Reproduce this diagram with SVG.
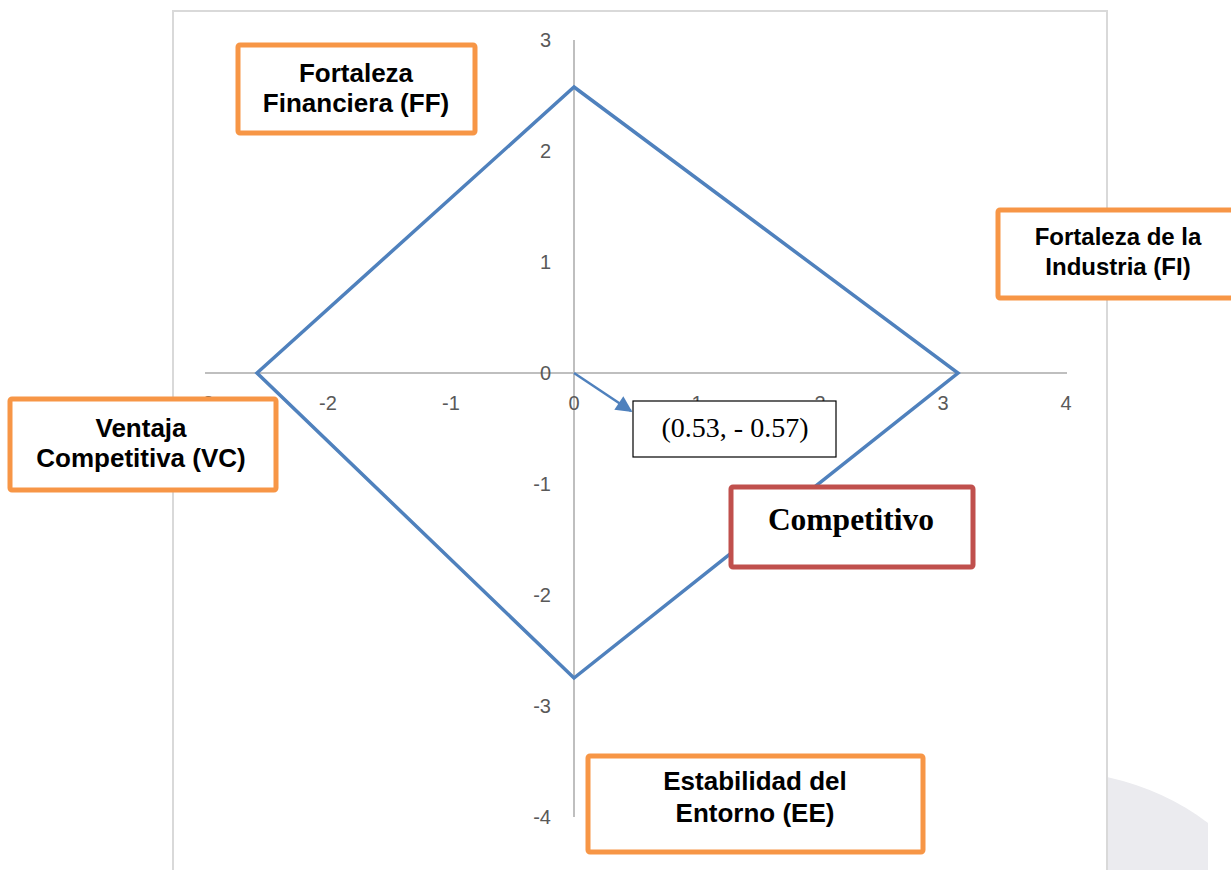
<svg xmlns="http://www.w3.org/2000/svg" width="1231" height="870" viewBox="0 0 1231 870">
<style>
.axis{stroke:#BFBFBF;stroke-width:2;fill:none}
.tick{font-family:"Liberation Sans",Arial,sans-serif;font-size:20px;fill:#595959}
.ob{fill:#fff;stroke:#F79646;stroke-width:5}
.ot{font-family:"Liberation Sans",Arial,sans-serif;font-weight:bold;fill:#000;text-anchor:middle}
</style>
<defs>
<marker id="ah" viewBox="0 0 10 10" refX="9" refY="5" markerWidth="7.5" markerHeight="6.5" markerUnits="strokeWidth" orient="auto">
<path d="M0,0 L10,5 L0,10 Z" fill="#4F81BD"/>
</marker>
</defs>
<rect width="1231" height="870" fill="#fff"/>
<path d="M1107,777 Q1165,790 1208,823 L1208,870 L1107,870 Z" fill="#EBEBEF"/>
<path d="M173,880 L173,11 L1107,11 L1107,880" fill="none" stroke="#D9D9D9" stroke-width="2"/>
<g id="axes">
<line class="axis" x1="205" y1="373" x2="1067" y2="373"/>
<line class="axis" x1="574" y1="40" x2="574" y2="817"/>
<g class="tick" text-anchor="end">
<text x="551" y="47">3</text>
<text x="551" y="158">2</text>
<text x="551" y="269">1</text>
<text x="551" y="380">0</text>
<text x="551" y="491">-1</text>
<text x="551" y="602">-2</text>
<text x="551" y="713">-3</text>
<text x="551" y="824">-4</text>
</g>
<g class="tick" text-anchor="middle">
<text x="205" y="410">-3</text>
<text x="328" y="410">-2</text>
<text x="451" y="410">-1</text>
<text x="574" y="410">0</text>
<text x="697" y="410">1</text>
<text x="820" y="410">2</text>
<text x="943" y="410">3</text>
<text x="1066" y="410">4</text>
</g>
</g>
<g id="connectors">
<polygon points="574,87 958,373 574,678 257,373" fill="none" stroke="#4F81BD" stroke-width="3.5" stroke-linejoin="miter"/>
<line x1="574" y1="373" x2="631" y2="411" stroke="#4F81BD" stroke-width="2.5" marker-end="url(#ah)"/>
</g>
<g id="point-label">
<rect x="633" y="401" width="203" height="56" fill="#fff" stroke="#000" stroke-width="1.2"/>
<text x="735" y="437" font-family="'Liberation Serif','Times New Roman',serif" font-size="28" text-anchor="middle">(0.53, - 0.57)</text>
</g>
<g id="ff">
<rect class="ob" x="238" y="45" width="237" height="88" rx="2"/>
<text class="ot" font-size="26" x="356" y="82">Fortaleza</text>
<text class="ot" font-size="26" x="356" y="112">Financiera (FF)</text>
</g>
<g id="fi">
<rect class="ob" x="998" y="210" width="240" height="88" rx="2"/>
<text class="ot" font-size="24" x="1118" y="245">Fortaleza de la</text>
<text class="ot" font-size="24" x="1118" y="275">Industria (FI)</text>
</g>
<g id="vc">
<rect class="ob" x="10" y="399" width="266" height="91" rx="2"/>
<text class="ot" font-size="26" x="141" y="437">Ventaja</text>
<text class="ot" font-size="26" x="141" y="467">Competitiva (VC)</text>
</g>
<g id="ee">
<rect class="ob" x="588" y="756" width="335" height="96" rx="2"/>
<text class="ot" font-size="26" x="755" y="790">Estabilidad del</text>
<text class="ot" font-size="26" x="755" y="822">Entorno (EE)</text>
</g>
<g id="competitivo">
<rect x="731" y="487" width="242" height="80" rx="2" fill="#fff" stroke="#C0504D" stroke-width="5"/>
<text x="851" y="530" font-family="'Liberation Serif','Times New Roman',serif" font-weight="bold" font-size="31.5" text-anchor="middle">Competitivo</text>
</g>
</svg>
